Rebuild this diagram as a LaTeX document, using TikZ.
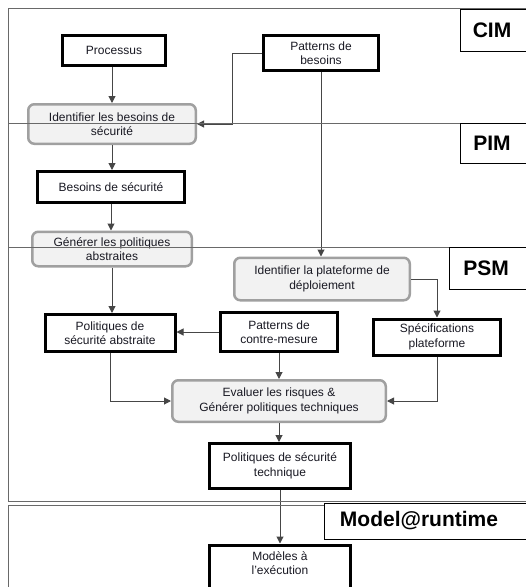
\documentclass[tikz,border=0pt]{standalone}
\usepackage{fontspec}
\setmainfont{Liberation Sans}
\usetikzlibrary{arrows.meta}
\definecolor{txt}{RGB}{25,25,35}
\definecolor{framec}{RGB}{105,105,105}
\definecolor{arrc}{RGB}{70,70,70}
\definecolor{pborder}{RGB}{160,160,160}
\definecolor{pfill}{RGB}{242,242,242}
\tikzset{
  basefont/.style={font=\fontsize{12}{14.5}\selectfont, text=txt, align=center, inner sep=0pt},
  blackbox/.style={basefont, draw=black, line width=3pt, fill=white},
  procbox/.style={basefont, draw=pborder, line width=2.5pt, fill=pfill, rounded corners=6pt},
  conn/.style={draw=arrc, line width=1pt, -{Triangle[length=7pt,width=7pt]}},
  frameline/.style={draw=framec, line width=1pt},
  lblbox/.style={draw=black, line width=0.8pt, fill=white},
  lbltext/.style={font=\bfseries\fontsize{21}{24}\selectfont, text=black, inner sep=0pt}
}
\begin{document}
\begin{tikzpicture}[x=1pt,y=-1pt]
\useasboundingbox (0,0) rectangle (526,587);
\clip (0,0) rectangle (526,587);
\fill[white] (0,0) rectangle (526,587);

% nodes
\node[blackbox, minimum width=103pt, minimum height=30pt] (proc) at (114,50) {Processus};
\node[blackbox, minimum width=115pt, minimum height=35pt] (patb) at (321,53) {Patterns de\\besoins};
\node[procbox, minimum width=167.5pt, minimum height=39.5pt] (idb) at (112,124) {Identifier les besoins de\\sécurité};
\node[blackbox, minimum width=147pt, minimum height=31pt] (bes) at (111,187) {Besoins de sécurité};
\node[procbox, minimum width=159.5pt, minimum height=34.5pt] (gen) at (112,249) {Générer les politiques\\abstraites};
\node[procbox, minimum width=175.5pt, minimum height=42.5pt] (idp) at (322,279) {Identifier la plateforme de\\déploiement};
\node[blackbox, minimum width=130pt, minimum height=37pt] (pola) at (110,333) {Politiques de\\sécurité abstraite};
\node[blackbox, minimum width=117pt, minimum height=39pt] (patc) at (279,332) {Patterns de\\contre-mesure};
\node[blackbox, minimum width=127pt, minimum height=36pt] (spec) at (437,337) {Spécifications\\plateforme};
\node[procbox, minimum width=213.5pt, minimum height=41.5pt] (eval) at (279,401) {Evaluer les risques \&\\Générer politiques techniques};
\node[blackbox, minimum width=141pt, minimum height=45pt] (polt) at (280,466) {Politiques de sécurité\\technique};
\node[blackbox, minimum width=141pt, minimum height=53pt, anchor=north] (mod) at (280,543.5) {};
\node[basefont] (modt) at (280,563) {Modèles à\\l'exécution};

% connectors
\coordinate (k1) at (232,53);
\draw[conn] (proc.south -| idb.north) -- (idb.north);
\draw[conn] (patb.west) -- (k1) |- (idb.east);
\draw[conn] (idb.south) -- (idb.south |- bes.north);
\draw[conn] (bes.south) -- (bes.south |- gen.north);
\draw[conn] (gen.south) -- (gen.south |- pola.north);
\draw[conn] (patb.south) -- (patb.south |- idp.north);
\draw[conn] (idp.east) -| (spec.north);
\draw[conn] (patc.west) -- (patc.west -| pola.east);
\draw[conn] (patc.south) -- (patc.south |- eval.north);
\draw[conn] (pola.south) |- (eval.west);
\draw[conn] (spec.south) |- (eval.east);
\draw[conn] (eval.south) -- (eval.south |- polt.north);
\draw[conn] (polt.south) -- (polt.south |- mod.north);

% section frames
\draw[frameline] (8,8) rectangle (540,123);
\draw[frameline] (8,123) rectangle (540,247);
\draw[frameline] (8,247) rectangle (540,501);
\draw[frameline] (8,505) rectangle (540,600);

% section labels
\draw[lblbox] (460,9) rectangle (530,51);
\node[lbltext] (cim) at (492,30) {CIM};
\draw[lblbox] (460,123) rectangle (530,163);
\node[lbltext] (pim) at (492,143) {PIM};
\draw[lblbox] (449,247) rectangle (530,289);
\node[lbltext] (psm) at (486,268) {PSM};
\draw[lblbox] (324,503) rectangle (530,539);
\node[lbltext] (mrt) at (419,521) {Model@runtime};
\end{tikzpicture}
\end{document}
